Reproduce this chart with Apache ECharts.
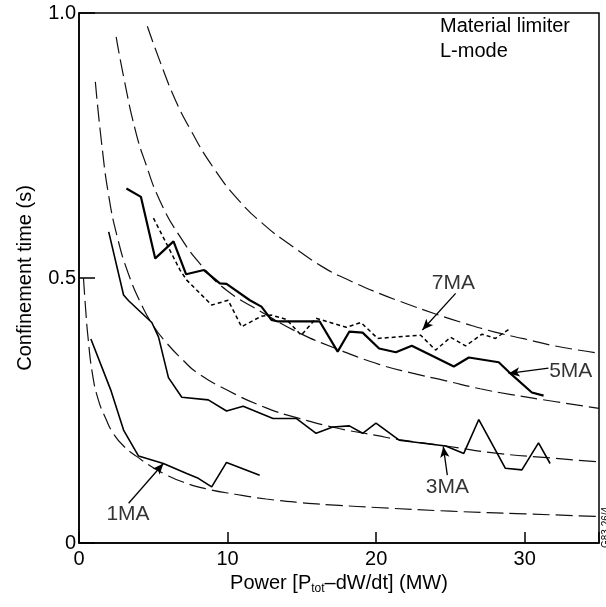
<!DOCTYPE html>
<html><head><meta charset="utf-8">
<script src="https://cdn.jsdelivr.net/npm/echarts@6/dist/echarts.min.js"></script>
<style>html,body{margin:0;padding:0;background:#fff}#c{width:606px;height:607px}</style>
</head><body><div id="c"></div>
<script>
// Measured data (Power MW, confinement time s)
const ma7 = [[5.01,0.613],[6.80,0.515],[7.25,0.496],[8.93,0.449],[10.04,0.458],[10.94,0.408],[12.28,0.428],[12.95,0.430],[13.95,0.422],[14.96,0.392],[15.96,0.424],[17.98,0.407],[18.98,0.416],[20.1,0.386],[23.0,0.392],[24.0,0.364],[25.01,0.388],[26.02,0.372],[27.13,0.394],[28.03,0.386],[28.92,0.403]];
const ma5 = [[3.19,0.669],[4.17,0.653],[5.13,0.537],[6.36,0.569],[7.21,0.507],[8.41,0.515],[9.48,0.490],[9.93,0.489],[11.5,0.458],[12.28,0.446],[12.95,0.421],[13.4,0.418],[16.2,0.418],[17.41,0.361],[18.2,0.399],[19.09,0.397],[20.2,0.367],[21.33,0.360],[22.4,0.372],[25.23,0.333],[26.24,0.350],[28.25,0.341],[28.92,0.323],[30.48,0.284],[31.27,0.278]];
const ma3 = [[2.0,0.587],[3.0,0.468],[3.34,0.457],[4.9,0.416],[5.35,0.389],[6.02,0.312],[6.92,0.275],[8.70,0.270],[9.93,0.249],[11.05,0.258],[13.06,0.235],[14.62,0.235],[15.96,0.207],[17.08,0.219],[18.2,0.221],[19.09,0.207],[19.99,0.226],[21.55,0.194],[24.68,0.183],[25.9,0.169],[26.91,0.233],[28.7,0.141],[29.81,0.138],[30.93,0.189],[31.71,0.150]];
const ma1 = [[0.8,0.385],[2.16,0.287],[3.0,0.213],[4.01,0.164],[5.68,0.150],[7.25,0.131],[8.03,0.122],[8.93,0.106],[9.93,0.152],[12.16,0.128]];
// Scaling-law curves
const fit7 = [[4.6,0.975],[5.5,0.905],[6.5,0.835],[7.5,0.78],[9,0.71],[10.8,0.645],[12.6,0.597],[14,0.567],[16.4,0.521],[18,0.498],[20.2,0.471],[22,0.452],[24,0.432],[26,0.414],[28,0.398],[30,0.385],[32,0.372],[35,0.358]];
const fit5 = [[2.5,0.955],[3,0.88],[3.79,0.779],[4.5,0.715],[5.46,0.645],[6.8,0.578],[8.36,0.52],[9.93,0.477],[12.28,0.436],[14.85,0.396],[17.2,0.368],[20.2,0.337],[22.5,0.32],[24.7,0.306],[27,0.291],[29.1,0.28],[32,0.267],[35,0.254]];
const fit3 = [[1.1,0.87],[1.5,0.76],[2,0.655],[2.6,0.575],[3.3,0.51],[4.2,0.45],[5,0.41],[5.91,0.377],[7,0.345],[7.92,0.322],[9.93,0.289],[12.6,0.255],[14.7,0.236],[17.5,0.216],[20,0.203],[21.55,0.195],[24.7,0.183],[28.2,0.169],[31.5,0.161],[35,0.153]];
const fit1 = [[0.3,0.50],[0.45,0.44],[0.6,0.39],[0.9,0.32],[1.3,0.27],[1.8,0.235],[2.3,0.207],[3,0.183],[3.9,0.163],[5,0.142],[5.7,0.131],[7,0.115],[8.6,0.102],[10.5,0.092],[12.6,0.083],[15,0.076],[17.5,0.071],[20,0.067],[25,0.060],[30,0.055],[35,0.050]];
// Annotation labels and arrows (data coordinates)
const labelNames = ['7MA','5MA','3MA','1MA'];
const labelPos = [[25.2,0.49],[33.1,0.325],[24.8,0.106],[3.3,0.055]];
const arrowTail = [[25.35,0.471],[31.6,0.330],[24.79,0.128],[3.34,0.075]];
const arrowHead = [[23.11,0.402],[28.92,0.320],[24.52,0.182],[5.68,0.150]];
const xTicks = [0,10,20,30];
const yTickLabels = {0:'0',0.5:'0.5',1:'1.0'};

const FONT = 'Liberation Sans, Arial, Helvetica, sans-serif';
const chart = echarts.init(document.getElementById('c'), null, {renderer:'canvas'});
const fitStyle = {color:'#111', width:1.2, type:[17,6]};
function fitSeries(d){return {type:'line', data:d, smooth:true, showSymbol:false, silent:true, lineStyle:fitStyle, z:2};}
function dataSeries(d,w,t){return {type:'line', data:d, showSymbol:false, silent:true, lineStyle:{color:'#000', width:w, type:t||'solid'}, z:3};}

chart.setOption({
  animation:false,
  backgroundColor:'#fff',
  grid:{left:79, right:7, top:13, bottom:64, show:true, borderColor:'#000', borderWidth:1.5, backgroundColor:'transparent'},
  xAxis:{type:'value', min:0, max:35, interval:10,
    name:'{a|Power [P}{s|tot}{a|–dW/dt] (MW)}', nameLocation:'middle', nameGap:21,
    nameTextStyle:{rich:{a:{fontFamily:FONT, fontSize:20, color:'#000'}, s:{fontFamily:FONT, fontSize:12, color:'#000', verticalAlign:'bottom', padding:[10,0,0,0]}}},
    axisLine:{lineStyle:{color:'#000', width:1.5}},
    axisTick:{inside:true, length:11, lineStyle:{color:'#000', width:1.5}},
    axisLabel:{fontFamily:FONT, fontSize:20, color:'#000', margin:6, formatter:v=>xTicks.includes(v)?String(v):''},
    splitLine:{show:false}},
  yAxis:{type:'value', min:0, max:1, interval:0.5,
    name:'Confinement time (s)', nameLocation:'middle', nameGap:44,
    nameTextStyle:{fontFamily:FONT, fontSize:20, color:'#000'},
    axisLine:{lineStyle:{color:'#000', width:1.5}},
    axisTick:{inside:true, length:16, lineStyle:{color:'#000', width:1.5}},
    axisLabel:{fontFamily:FONT, fontSize:20, color:'#000', margin:3, formatter:v=>yTickLabels[v]!==undefined?yTickLabels[v]:''},
    splitLine:{show:false}},
  graphic:[
    {type:'text', left:440, top:14, style:{text:'Material limiter\nL-mode', font:'20px '+FONT, fill:'#000', lineHeight:25}},
    {type:'text', x:601, y:548, rotation:Math.PI/2, style:{text:'G83.26/4', font:'10px '+FONT, fill:'#000'}}
  ],
  series:[
    fitSeries(fit7), fitSeries(fit5), fitSeries(fit3), fitSeries(fit1),
    dataSeries(ma7,1.5,[4,3]),
    dataSeries(ma5,2.2),
    dataSeries(ma3,1.6),
    dataSeries(ma1,1.6),
    {type:'scatter', data:labelNames.map((n,i)=>({name:n, value:labelPos[i]})), symbolSize:0, silent:true,
     label:{show:true, position:'inside', formatter:'{b}', fontFamily:FONT, fontSize:21, color:'#000'},
     markLine:{silent:true, symbol:['none','arrow'], symbolSize:[7,11], label:{show:false},
       lineStyle:{color:'#000', width:1.3, type:'solid'},
       data:arrowTail.map((t,i)=>[{coord:t},{coord:arrowHead[i]}])}}
  ]
});
</script></body></html>
